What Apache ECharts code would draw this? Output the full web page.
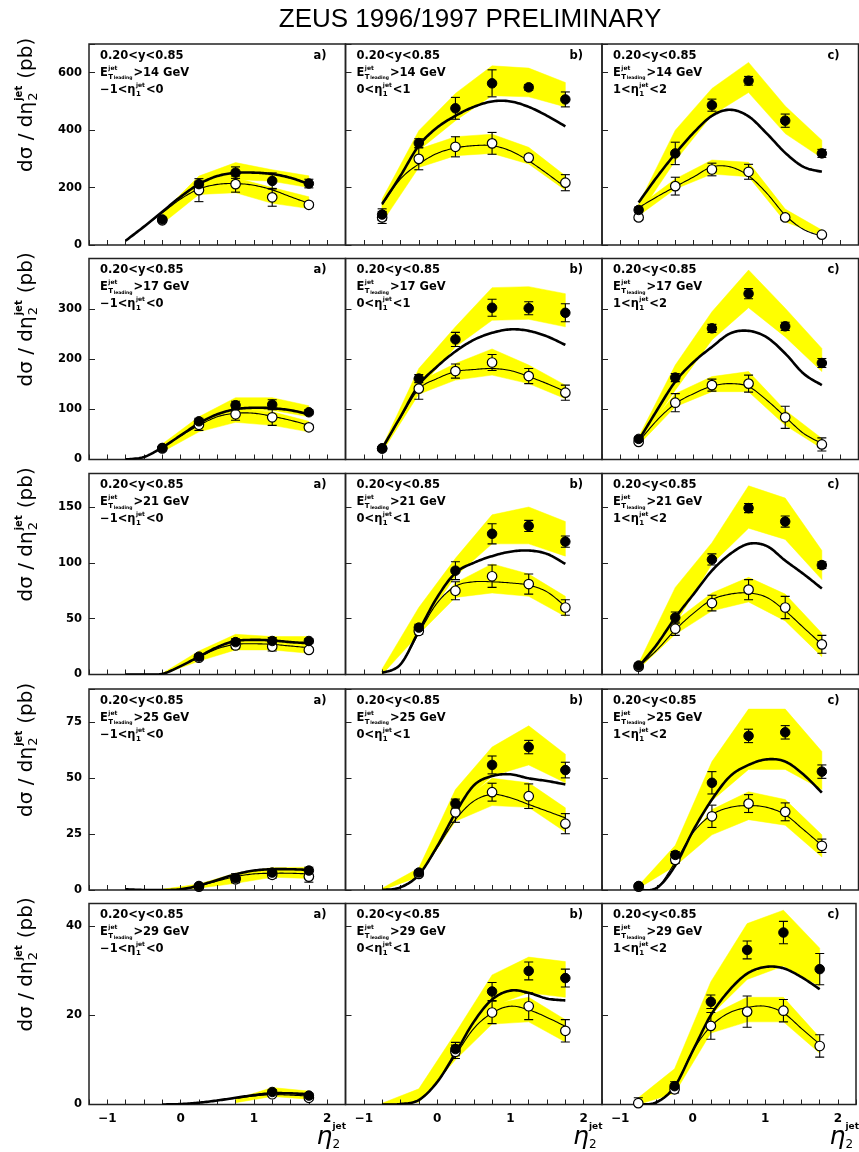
<!DOCTYPE html>
<html><head><meta charset="utf-8">
<script src="https://cdn.jsdelivr.net/npm/echarts@6/dist/echarts.min.js"></script>
<style>html,body{margin:0;padding:0;background:#fff}#c{width:859px;height:1152px}</style>
</head><body><div id="c"></div>
<script>
// ---------------- data ----------------
const etaBins = [-0.75, -0.25, 0.25, 0.75, 1.25, 1.75];
const curveEta = [-0.75, -0.5, -0.25, 0, 0.25, 0.5, 0.75, 1, 1.25, 1.5, 1.75];
const etCuts = [14, 17, 21, 25, 29];
const eta1Lo = ['−1', '0', '1'];
const eta1Hi = ['0', '1', '2'];
const panelTags = ['a)', 'b)', 'c)'];
const yMax = [700, 400, 180, 90, 45];
const yStep = [200, 100, 50, 25, 20];
const xTickLabels = [-1, 0, 1, 2];

// rows: ET>14,17,21,25,29 ; cols: a,b,c ; values at etaBins
const fullPts = [
 [[null,89,212,252,223,214],[106,355,476,563,549,507],[122,319,487,572,433,319]],
 [[null,23,76,108,109,94],[22,161,239,302,301,292],[41,163,261,330,265,192]],
 [[null,null,16,29,30,30],[null,42,93,126,133,119],[8,51,103,149,137,98]],
 [[null,null,1.8,5.3,7.8,8.7],[null,7.8,38.7,56,64,53.7],[1.8,15.7,48,69,70.6,53]],
 [[null,null,null,null,2.8,2.0],[null,null,12.4,25.3,29.9,28.3],[null,4.1,23,34.6,38.5,30.3]]
];
const fullErr = [
 [[null,6,10,20,28,15],[20,15,38,47,10,26],[10,39,21,15,23,14]],
 [[null,3,6,8,10,5],[3,8,14,17,13,18],[3,8,8,10,8,9]],
 [[null,null,2,3,3,2],[null,3,8,9,5,5],[2,5,5,4,5,3]],
 [[null,null,0.5,2,1.5,1.5],[null,1,2,4,3,3.5],[0.5,1.5,5,3,3,3]],
 [[null,null,null,null,0.5,0.5],[null,null,1.5,2,2,2],[null,1,1.5,2,2.5,3.5]]
];
const openPts = [
 [[null,86,191,212,166,140],[96,300,342,354,304,217],[96,205,263,255,96,36]],
 [[null,22,69,90,84,64],[22,141,176,193,166,133],[35,113,148,151,84,30]],
 [[null,null,15,26,25,22],[null,39,75,88,81,60],[7,41,64,76,60,27]],
 [[null,null,1.5,4.8,6.8,6.0],[null,7.2,34.8,43.8,42,29.7],[1.5,13.5,33,38.7,35,19.8]],
 [[null,null,null,null,2.3,1.5],[null,null,11.8,20.6,22,16.5],[0.3,3.4,17.6,20.8,21,13.1]]
];
const openErr = [
 [[null,6,40,28,31,8],[21,38,35,38,10,28],[8,31,22,26,8,5]],
 [[null,3,11,12,16,5],[3,21,14,16,15,15],[3,18,12,17,22,13]],
 [[null,null,2,3,4,2],[null,3,8,10,9,7],[2,6,7,9,10,8]],
 [[null,null,0.5,1.5,1.5,2.5],[null,1,4.5,4,5.5,4.5],[0.5,1.5,5,4,4,3]],
 [[null,null,null,null,0.5,0.5],[null,null,1.5,2.5,3,2.5],[1.2,0.8,3,3.5,2.5,2.5]]
];
const fullBandLo = [
 [[null,80,200,228,222,200],[96,330,433,520,516,481],[104,293,452,531,388,303]],
 [[null,20,66,96,98,85],[18,140,224,277,279,264],[32,138,238,302,244,175]],
 [[null,0,13,27,26,24],[0,40,88,117,117,106],[5,45,99,131,121,85]],
 [[null,0,1.5,4.5,7,7.5],[0,6,36,51,56,48],[1,12,40,54,54,45]],
 [[null,null,null,0.6,2.2,1.8],[0,1,11,22,25,24],[0.5,3,20,28,31,26.5]]
];
const fullBandHi = [
 [[null,112,240,287,262,241],[160,398,528,624,616,566],[143,400,545,636,484,365]],
 [[null,31,85,123,123,107],[25,181,264,342,344,330],[45,188,294,377,301,221]],
 [[null,1,21,36,34,34],[5,60,104,143,150,137],[10,78,118,169,158,111]],
 [[null,0.3,2.7,7.5,10,10.2],[0.8,9.8,45,64,73.5,60.8],[2,20,57.5,81,81,62]],
 [[null,null,null,1.2,3.8,3.0],[0.3,3.5,16,29,33,32],[1.5,8,27.5,40.5,43.5,35]]
];
const openBandLo = [
 [[null,74,176,182,145,127],[79,270,311,319,282,191],[102,195,247,238,81,31]],
 [[null,15,55,74,68,55],[15,130,158,168,151,121],[29,105,135,135,68,22]],
 [[null,0,12,22,22,19],[0,36,69,73,70,52],[5,36,57,65,48,16]],
 [[null,0,0.8,3,5.7,5.2],[0,6,30.8,37.8,37,26],[0.8,10.8,24.7,31.5,29,14.8]],
 [[null,null,null,0.4,1.8,1.2],[0,0.5,10,18,18.5,14],[0,2.5,16,18.5,18.5,11.5]]
];
const openBandHi = [
 [[null,100,218,234,200,168],[143,334,377,386,340,241],[135,230,296,288,125,52]],
 [[null,26,75,100,95,76],[24,155,191,220,188,148],[42,131,165,175,98,42]],
 [[null,1,18,30,28,27],[3,45,82,99,90,70],[9,48,73,87,72,37]],
 [[null,0.3,2,6,8,8],[0.5,8.5,37.5,50,48,36.8],[1.8,15,36,44,40.5,24.7]],
 [[null,null,null,1.0,3.0,2.5],[0.2,2,13,22.5,24,19],[1,5,20,24,24,15]]
];
// theory curves at curveEta
const fullCurve = [
 [[15,64,116,168,212,240,251,252,247,234,212],[143,241,346,409,450,481,500,500,481,450,413],[148,237,318,391,450,471,448,388,321,272,255]],
 [[0,5,24,48,72,90,100,103,102,98,90],[22,85,148,185,215,238,252,259,256,245,228],[38,98,155,194,224,251,256,243,211,171,148]],
 [[0,0,0.6,7.5,16,24.5,30,31,30.5,29,28],[1.5,9,39,69,91,100,106,110,111,108,99],[7,27,51,72,93,108,117,115,102,90,77]],
 [[0.3,0,0,0.3,2,4.5,7,8.7,9.3,9.3,9],[0,1.2,6.8,19.5,34.5,46.8,51,51.8,50,48.8,47.3],[0,1,11,27,40.5,51,56,58.5,57.5,51.7,43.6]],
 [[null,null,0,0.1,0.4,0.9,1.5,2.1,2.5,2.5,2.3],[0,0.1,1,5,11.5,18.5,23.5,25.5,25,23.7,23.3],[0,0.5,4,12,20,25.5,29.3,30.8,30.5,28.5,25.8]]
];
const openCurve = [
 [[15,64,112,160,195,211,214,208,192,168,145],[140,230,282,319,338,346,346,328,293,249,201],[130,168,203,237,272,272,241,180,104,54,31]],
 [[0,5,24,47,68,85,92,92,86,78,68],[22,83,140,161,175,179,181,177,165,151,135],[35,78,111,131,146,151,145,118,85,52,32]],
 [[0,0,0.6,7.5,15.5,23,27,27.5,27,25.5,24],[1.5,9,37,64,79,83,83,82,80,74,61],[7,22,40,55,67,72,73,69,57,42,27]],
 [[0.3,0,0,0.3,1.8,4,6,7.2,7.5,7.5,7.2],[0,1.2,6.8,18.8,31.5,39.8,42.8,41.3,38.3,35.3,32.3],[0,1,12.6,26,33.7,37,37.8,37,33.7,27,20]],
 [[null,null,0,0.1,0.4,0.9,1.4,1.9,2.2,2.1,1.9],[0,0.1,1,5,11,17,20.5,22,21.2,19.5,17.5],[0,0.5,4,12,17.5,20.5,21.7,22,20.5,17,13.5]]
];

// ---------------- layout ----------------
const FONT = 'DejaVu Sans';
const GRID_LEFT = [89, 345.5, 602];
const GRID_W = 256.5;
const GRID_TOP = [44, 258.5, 473.5, 689, 903.5];
const GRID_H = 201;

const mctx = document.createElement('canvas').getContext('2d');
function tw(t, size, weight) { mctx.font = (weight || 'bold') + ' ' + size + 'px "' + FONT + '"'; return mctx.measureText(t).width; }
function txt(x, y, t, size, o) {
  o = o || {};
  return { type: 'text', x: x, y: y, silent: true, z: 100,
    style: { text: t, fill: '#000', fontSize: size, fontFamily: o.family || FONT,
      fontWeight: o.weight || 'bold', fontStyle: o.italic ? 'italic' : 'normal',
      align: o.align || 'left', verticalAlign: 'middle',
      textAlign: o.align || 'left', textVerticalAlign: 'middle' } };
}

const grids = [], xAxes = [], yAxes = [], series = [], graphics = [];

function pairs(xs, vs) { const d = []; xs.forEach((x, i) => { if (vs[i] != null) d.push([x, vs[i]]); }); return d; }

function bandSeries(idx, lo, hi) {
  const pts = [];
  etaBins.forEach((x, i) => { if (lo[i] != null && hi[i] != null) pts.push([x, lo[i], hi[i]]); });
  return { type: 'custom', xAxisIndex: idx, yAxisIndex: idx, silent: true, z: 1, clip: true,
    data: pts, encode: { x: 0, y: [1, 2] },
    renderItem: function (params, api) {
      if (params.dataIndex !== 0) return null;
      const up = pts.map(p => api.coord([p[0], p[2]]));
      const dn = pts.map(p => api.coord([p[0], p[1]])).reverse();
      return { type: 'polygon', shape: { points: up.concat(dn) }, style: { fill: '#ffff00', stroke: '#ffff00', lineWidth: 0.5 } };
    } };
}
// smooth theory curve: Catmull-Rom spline through the read values, in pixel space
function curveSeries(idx, vals, width) {
  const d = pairs(curveEta, vals);
  return { type: 'custom', xAxisIndex: idx, yAxisIndex: idx, silent: true, z: 3, clip: true,
    data: d, encode: { x: 0, y: 1 },
    renderItem: function (params, api) {
      if (params.dataIndex !== 0) return null;
      const p = d.map(q => api.coord(q));
      const out = [];
      const n = p.length, seg = 12;
      for (let i = 0; i < n - 1; i++) {
        const p0 = p[i - 1] || p[i], p1 = p[i], p2 = p[i + 1], p3 = p[i + 2] || p[i + 1];
        for (let s = 0; s < seg; s++) {
          const t = s / seg, t2 = t * t, t3 = t2 * t;
          const f = k => 0.5 * (2 * p1[k] + (-p0[k] + p2[k]) * t + (2 * p0[k] - 5 * p1[k] + 4 * p2[k] - p3[k]) * t2 + (-p0[k] + 3 * p1[k] - 3 * p2[k] + p3[k]) * t3);
          out.push([f(0), f(1)]);
        }
      }
      out.push(p[n - 1]);
      return { type: 'polyline', shape: { points: out }, style: { stroke: '#000', lineWidth: width, fill: null, lineJoin: 'round' } };
    } };
}
function errSeries(idx, vals, errs) {
  const d = [];
  etaBins.forEach((x, i) => { if (vals[i] != null && errs[i] != null) d.push([x, vals[i] - errs[i], vals[i] + errs[i]]); });
  return { type: 'custom', xAxisIndex: idx, yAxisIndex: idx, silent: true, z: 4, clip: true,
    data: d, encode: { x: 0, y: [1, 2] },
    renderItem: function (params, api) {
      const x = api.value(0);
      const a = api.coord([x, api.value(1)]), b = api.coord([x, api.value(2)]);
      const hw = 4.5, st = { stroke: '#000', lineWidth: 1.1 };
      return { type: 'group', children: [
        { type: 'line', shape: { x1: a[0], y1: a[1], x2: b[0], y2: b[1] }, style: st },
        { type: 'line', shape: { x1: a[0] - hw, y1: a[1], x2: a[0] + hw, y2: a[1] }, style: st },
        { type: 'line', shape: { x1: b[0] - hw, y1: b[1], x2: b[0] + hw, y2: b[1] }, style: st } ] };
    } };
}

let idx = 0;
for (let r = 0; r < 5; r++) {
  for (let c = 0; c < 3; c++) {
    const L = GRID_LEFT[c], T = GRID_TOP[r];
    grids.push({ left: L, top: T, width: GRID_W, height: GRID_H, show: true, z: 2,
      borderColor: '#222', borderWidth: 1.5, backgroundColor: 'rgba(0,0,0,0)' });
    xAxes.push({ gridIndex: idx, type: 'value', min: -1.25, max: 2.25, interval: 0.25, z: 2,
      axisLine: { show: false, onZero: false },
      axisTick: { show: true, inside: true, length: 5, lineStyle: { color: '#222', width: 1 } },
      splitLine: { show: false },
      axisLabel: { show: r === 4, margin: 8, color: '#000', fontFamily: FONT, fontWeight: 'bold', fontSize: 12,
        formatter: v => xTickLabels.indexOf(v) >= 0 ? (v < 0 ? '−' + (-v) : String(v)) : '' } });
    const st = yStep[r], mx = yMax[r];
    yAxes.push({ gridIndex: idx, type: 'value', min: 0, max: mx, interval: st, z: 2,
      axisLine: { show: false, onZero: false },
      axisTick: { show: true, inside: true, length: 6, lineStyle: { color: '#222', width: 1 } },
      splitLine: { show: false },
      axisLabel: { show: c === 0, margin: 7, color: '#000', fontFamily: FONT, fontWeight: 'bold', fontSize: 11.5,
        formatter: v => (Math.abs(v % st) < 1e-9 && v !== mx ? String(v) : '') } });

    series.push(bandSeries(idx, fullBandLo[r][c], fullBandHi[r][c]));
    series.push(bandSeries(idx, openBandLo[r][c], openBandHi[r][c]));
    series.push(curveSeries(idx, fullCurve[r][c], 2.6));
    series.push(curveSeries(idx, openCurve[r][c], 1.1));
    series.push(errSeries(idx, openPts[r][c], openErr[r][c]));
    series.push(errSeries(idx, fullPts[r][c], fullErr[r][c]));
    series.push({ type: 'scatter', xAxisIndex: idx, yAxisIndex: idx, z: 5, silent: true, symbol: 'circle', symbolSize: 9.5,
      data: pairs(etaBins, openPts[r][c]), itemStyle: { color: '#fff', borderColor: '#000', borderWidth: 1.2, opacity: 1 } });
    series.push({ type: 'scatter', xAxisIndex: idx, yAxisIndex: idx, z: 6, silent: true, symbol: 'circle', symbolSize: 9.5,
      data: pairs(etaBins, fullPts[r][c]), itemStyle: { color: '#000', borderColor: '#000', borderWidth: 1, opacity: 1 } });

    // panel texts
    const fs = 11.5;
    graphics.push(txt(L + 11, T + 12, '0.20<y<0.85', fs));
    graphics.push(txt(L + GRID_W - 19, T + 12, panelTags[c], fs, { align: 'right' }));
    let x = L + 11, y2 = T + 29;
    graphics.push(txt(x, y2, 'E', fs)); x += tw('E', fs) + 0.5;
    graphics.push(txt(x, y2 - 5, 'jet', 6));
    graphics.push(txt(x, y2 + 4, 'T', 7));
    graphics.push(txt(x + tw('T', 7) + 0.5, y2 + 5, 'leading', 4.5));
    x += Math.max(tw('jet', 6), tw('T', 7) + tw('leading', 4.5) + 0.5) + 1;
    graphics.push(txt(x, y2, '>' + etCuts[r] + ' GeV', fs));
    let y3 = T + 46; x = L + 11;
    const s3 = eta1Lo[c] + '<η';
    graphics.push(txt(x, y3, s3, fs)); x += tw(s3, fs) + 0.5;
    graphics.push(txt(x, y3 - 5, 'jet', 6));
    graphics.push(txt(x, y3 + 4, '1', 7));
    x += Math.max(tw('jet', 6), tw('1', 7)) + 1;
    graphics.push(txt(x, y3, '<' + eta1Hi[c], fs));
    idx++;
  }
  // y-axis title (rotated)
  const T = GRID_TOP[r];
  const base = 20; let lx = 0; const ch = [];
  const s1 = 'dσ / dη';
  ch.push(txt(lx, 0, s1, base, { weight: 'normal' })); lx += tw(s1, base, 'normal');
  ch.push(txt(lx + 1, 7, '2', 13, { weight: 'normal' }));
  ch.push(txt(lx + 1, -8, 'jet', 10));
  lx += Math.max(tw('2', 13, 'normal'), tw('jet', 10)) + 8;
  ch.push(txt(lx, 0, '(pb)', base, { weight: 'normal' }));
  graphics.push({ type: 'group', x: 27, y: T + 128, rotation: Math.PI / 2, children: ch });
}
// x-axis names
for (let c = 0; c < 3; c++) {
  const R = GRID_LEFT[c] + GRID_W;
  graphics.push(txt(R - 29, 1137, 'η', 25, { weight: 'normal', italic: true }));
  graphics.push(txt(R - 13, 1127, 'jet', 9));
  graphics.push(txt(R - 13, 1145, '2', 12, { weight: 'normal' }));
}
// title
graphics.push(txt(470, 20, 'ZEUS 1996/1997 PRELIMINARY', 26, { weight: 'normal', family: 'Liberation Sans', align: 'center' }));

const chart = echarts.init(document.getElementById('c'), null, { renderer: 'canvas' });
chart.setOption({
  animation: false,
  backgroundColor: '#fff',
  grid: grids, xAxis: xAxes, yAxis: yAxes, series: series,
  graphic: { elements: graphics }
});
</script>
</body></html>
